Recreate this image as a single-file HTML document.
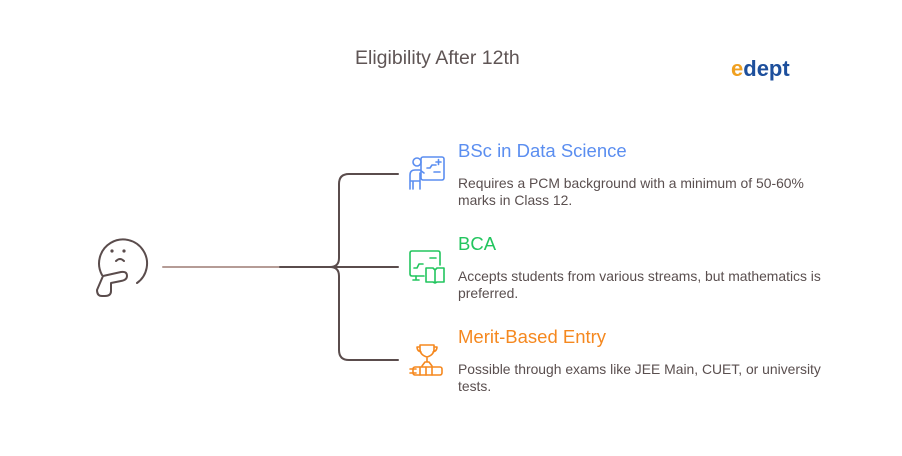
<!DOCTYPE html>
<html><head><meta charset="utf-8"><style>
body{margin:0;width:902px;height:456px;background:#fff;position:relative;font-family:"Liberation Sans",sans-serif;overflow:hidden}
.t{position:absolute;white-space:nowrap}
.h{font-size:18.5px;left:458px}
.d{font-size:13.9px;color:#5a4f4f;left:458px;line-height:17px}
</style></head><body>
<div class="t" style="left:355px;top:47px;font-size:19.5px;color:#5f5555">Eligibility After 12th</div>
<div class="t" style="left:731px;top:56px;font-size:22px;font-weight:bold;color:#1d4f9c"><span style="color:#f0a020">e</span>dept</div>
<svg width="902" height="456" style="position:absolute;left:0;top:0">
<g fill="none" stroke-linecap="round" stroke-linejoin="round">
<line x1="163" y1="267" x2="280" y2="267" stroke="#b59c96" stroke-width="2"/>
<path d="M280 267 H330 Q339 267 339 258 V184 Q339 174 349 174 H398" stroke="#5a4c4c" stroke-width="2"/>
<path d="M330 267 Q339 267 339 276 V350 Q339 360 349 360 H398" stroke="#5a4c4c" stroke-width="2"/>
<line x1="330" y1="267" x2="398" y2="267" stroke="#5a4c4c" stroke-width="2"/>
<g stroke="#5a4c4c" stroke-width="2">
<path d="M102 275 A24 24 0 1 1 137 283"/>
<path d="M116 261 q4 -4 8 0"/>
<path d="M103 276 l18 -4 q6 -1 6 4 q0 4 -6 5 l-10 2 v8 q0 5 -6 5 h-3 q-5 0 -5 -6 z"/>
</g>
<circle cx="112" cy="251" r="1.6" fill="#5a4c4c"/><circle cx="124" cy="251" r="1.6" fill="#5a4c4c"/>
<g stroke="#5b8ef0" stroke-width="1.6">
<rect x="421" y="157" width="23" height="23" rx="2"/>
<circle cx="417" cy="162" r="4"/>
<path d="M410 189 v-14 q0 -5 5 -5 h5 l4 3 M413 189 v-8 M420 189 v-8 M410 181 h10 v-8"/>
<path d="M427 168 h3 l2 -3 h4 M436 162 h5 M438.5 159.5 v5 M434 172 h6"/>
</g>
<g stroke="#22c55e" stroke-width="1.6">
<path d="M424 276 h-12 q-2 0 -2 -2 v-21 q0 -2 2 -2 h26 q2 0 2 2 v12"/>
<path d="M416 276 v4 M413 280 h6 M414 268 h3 l2 -4 h4 M430 258 h6"/>
<path d="M426 268 h7 l2 2 l2 -2 h7 v14 h-7 l-2 1 l-2 -1 h-7 z M435 270 v12"/>
</g>
<g stroke="#f5881f" stroke-width="1.6">
<path d="M420 345 h14 v4 q0 6 -7 8 q-7 -2 -7 -8 z M420 347 h-3 q0 4 4 5 M434 347 h3 q0 4 -4 5 M427 357 v5 M422 366 l3 -4 h4 l3 4"/>
<rect x="413" y="367" width="29" height="8" rx="2"/>
<path d="M420 367 v8 M426 367 v8 M432 367 v8 M410 369 h6 M410 373 h6"/>
</g>
</g>
</svg>
<div class="t h" style="top:140px;color:#5b8ef0">BSc in Data Science</div>
<div class="t d" style="top:175px">Requires a PCM background with a minimum of 50-60%<br>marks in Class 12.</div>
<div class="t h" style="top:233px;color:#22c55e">BCA</div>
<div class="t d" style="top:268px">Accepts students from various streams, but mathematics is<br>preferred.</div>
<div class="t h" style="top:326px;color:#f5881f">Merit-Based Entry</div>
<div class="t d" style="top:361px">Possible through exams like JEE Main, CUET, or university<br>tests.</div>
</body></html>
